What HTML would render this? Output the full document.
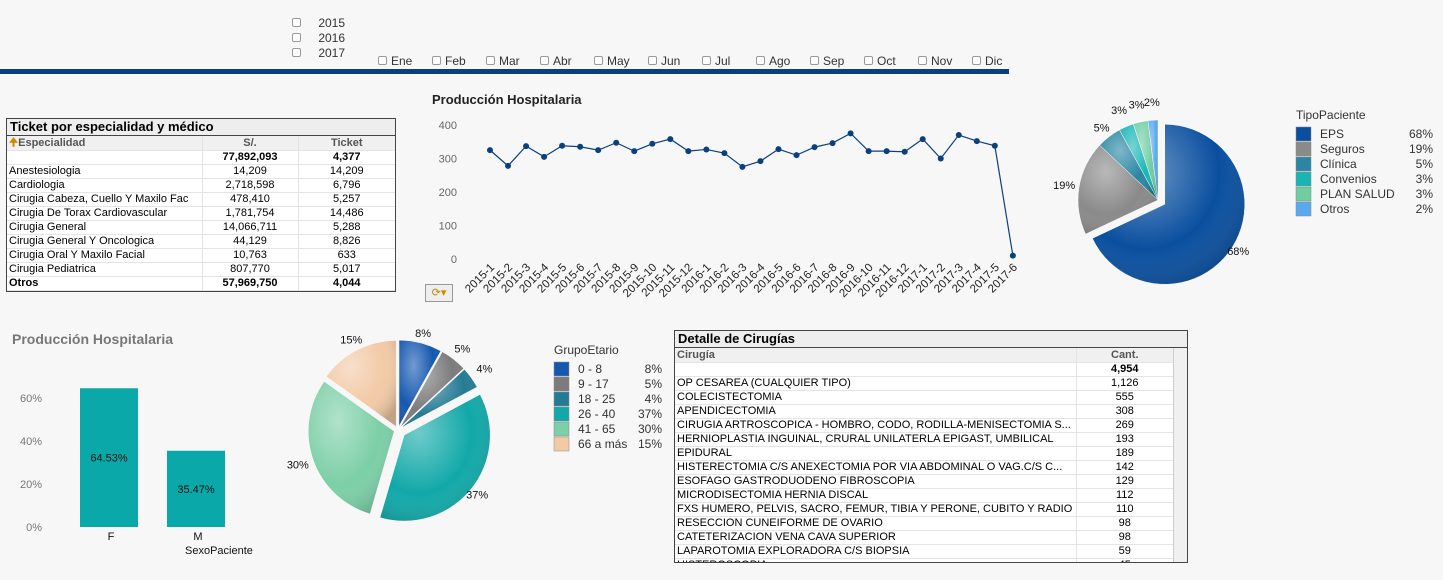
<!DOCTYPE html>
<html><head><meta charset="utf-8">
<style>
body{margin:0;width:1443px;height:580px;background:#f7f7f7;font-family:"Liberation Sans",sans-serif;position:relative;overflow:hidden;font-size:11px;color:#000}
.abs{position:absolute}
.cb{position:absolute;font-size:12px;color:#333}
.cb i{display:inline-block;width:7px;height:7px;border:1px solid #999;border-radius:2px;background:#fff;margin-right:4px;vertical-align:0}
table{border-collapse:collapse;font-size:11px}
td{padding:0 2px;height:13px;line-height:13px;border-bottom:1px solid #e4e4e4;white-space:nowrap;overflow:hidden}
.tbl{position:absolute;border:1px solid #444;background:#fff}
.ttl{background:#eee;border-bottom:1px solid #444;font-weight:bold;font-size:13px;height:16px;line-height:16px;padding-left:3px}
.hd td{background:#f0f0f0;color:#555;font-weight:bold;height:14px}
.c{text-align:center;border-left:1px solid #e4e4e4}
</style></head><body>
<div class="cb" style="left:292px;top:16px"><i></i>&nbsp;&nbsp;&nbsp;&nbsp;2015</div>
<div class="cb" style="left:292px;top:31px"><i></i>&nbsp;&nbsp;&nbsp;&nbsp;2016</div>
<div class="cb" style="left:292px;top:46px"><i></i>&nbsp;&nbsp;&nbsp;&nbsp;2017</div>
<div class="abs" style="left:0;top:69px;width:1009px;height:5px;background:#0c3f7d"></div>

<div class="tbl" style="left:6px;top:118px;width:388px;height:172px">
<div class="ttl">Ticket por especialidad y médico</div>
<table style="width:388px" id="t1">
<colgroup><col style="width:195px"><col style="width:96px"><col></colgroup>
<tr class="hd"><td><span style="color:#c80">🠉</span>Especialidad</td><td class="c">S/.</td><td class="c">Ticket</td></tr>
<tr style="font-weight:bold"><td></td><td class="c">77,892,093</td><td class="c">4,377</td></tr>
</table></div>

<div class="tbl" style="left:674px;top:330px;width:512px;height:231px;overflow:hidden">
<div class="ttl">Detalle de Cirugías</div>
<table style="width:498px" id="t2">
<colgroup><col style="width:401px"><col></colgroup>
<tr class="hd"><td>Cirugía</td><td class="c">Cant.</td></tr>
<tr style="font-weight:bold"><td></td><td class="c">4,954</td></tr>
</table>
<div class="abs" style="right:0;top:17px;width:13px;height:214px;background:#f0f0f0;border-left:1px solid #ccc"></div>
</div>

<svg class="abs" style="left:0;top:0" width="1443" height="580" id="svg"></svg>
<div class="abs" style="left:425px;top:284px;width:26px;height:16px;border:1px solid #999;background:#eee;font-size:11px;line-height:16px;text-align:center;color:#c80">⟳▾</div>

<script>
const months=['Ene','Feb','Mar','Abr','May','Jun','Jul','Ago','Sep','Oct','Nov','Dic'];
months.forEach((m,i)=>{const d=document.createElement('div');d.className='cb';d.style.left=(378+i*54)+'px';d.style.top='54px';d.innerHTML='<i></i>'+m;


document.body.appendChild(d);});

const espNames=['Anestesiologia','Cardiologia','Cirugia Cabeza, Cuello Y Maxilo Fac','Cirugia De Torax Cardiovascular','Cirugia General','Cirugia General Y Oncologica','Cirugia Oral Y Maxilo Facial','Cirugia Pediatrica','Otros'];
const espSoles=['14,209','2,718,598','478,410','1,781,754','14,066,711','44,129','10,763','807,770','57,969,750'];
const espTicket=['14,209','6,796','5,257','14,486','5,288','8,826','633','5,017','4,044'];
const t1=document.getElementById('t1');
espNames.forEach((n,i)=>{const r=t1.insertRow();if(i==8)r.style.fontWeight='bold';


r.innerHTML='<td>'+n+'</td><td class="c">'+espSoles[i]+'</td><td class="c">'+espTicket[i]+'</td>';});

const cirNames=['OP CESAREA (CUALQUIER TIPO)','COLECISTECTOMIA','APENDICECTOMIA','CIRUGIA ARTROSCOPICA - HOMBRO, CODO, RODILLA-MENISECTOMIA S...','HERNIOPLASTIA INGUINAL, CRURAL UNILATERLA EPIGAST, UMBILICAL','EPIDURAL','HISTERECTOMIA C/S ANEXECTOMIA POR VIA ABDOMINAL O VAG.C/S C...','ESOFAGO GASTRODUODENO FIBROSCOPIA','MICRODISECTOMIA HERNIA DISCAL','FXS HUMERO, PELVIS, SACRO, FEMUR, TIBIA Y PERONE, CUBITO Y RADIO','RESECCION CUNEIFORME DE OVARIO','CATETERIZACION VENA CAVA SUPERIOR','LAPAROTOMIA EXPLORADORA C/S BIOPSIA','HISTEROSCOPIA'];
const cirCant=['1,126','555','308','269','193','189','142','129','112','110','98','98','59','45'];
const t2=document.getElementById('t2');
cirNames.forEach((n,i)=>{const r=t2.insertRow();


r.innerHTML='<td>'+n+'</td><td class="c">'+cirCant[i]+'</td>';});

const NS='http://www.w3.org/2000/svg';const svg=document.getElementById('svg');
function el(t,a,txt){const e=document.createElementNS(NS,t);for(const k in a)e.setAttribute(k,a[k]);if(txt!==undefined)e.textContent=txt;svg.appendChild(e);return e;}

// line chart
const lineCats=['2015-1','2015-2','2015-3','2015-4','2015-5','2015-6','2015-7','2015-8','2015-9','2015-10','2015-11','2015-12','2016-1','2016-2','2016-3','2016-4','2016-5','2016-6','2016-7','2016-8','2016-9','2016-10','2016-11','2016-12','2017-1','2017-2','2017-3','2017-4','2017-5','2017-6'];
const lineVals=[325,278,337,305,338,335,325,347,322,344,358,322,327,316,275,292,328,310,334,346,375,322,322,320,358,300,370,352,338,10];
const lineTicks=[0,100,200,300,400];
const ly=v=>259-v*0.335, lx=i=>490+i*18.03;
let t=el('text',{x:432,y:104,'font-size':13,'font-weight':'bold',fill:'#222'},'Producción Hospitalaria');

lineTicks.forEach(v=>{const e=el('text',{x:457,y:ly(v)+4,'font-size':11,fill:'#666','text-anchor':'end'},v);
});
const pl=el('polyline',{points:lineVals.map((v,i)=>lx(i)+','+ly(v)).join(' '),fill:'none',stroke:'#0b3f7f','stroke-width':1.2});

lineVals.forEach((v,i)=>{const c=el('circle',{cx:lx(i),cy:ly(v),r:3,fill:'#0b3f7f'});

const l=el('text',{x:0,y:0,'font-size':11.5,fill:'#222','text-anchor':'end',transform:'translate('+(lx(i)+5)+',268) rotate(-45)'},lineCats[i]);
});

// bar chart
const barCats=['F','M'];const barVals=[64.53,35.47];const barTicks=[0,20,40,60];
const by=v=>527-v*2.15;
t=el('text',{x:12,y:344,'font-size':14,'font-weight':'bold',fill:'#777'},'Producción Hospitalaria');

barTicks.forEach(v=>{const e=el('text',{x:42,y:by(v)+4,'font-size':11,fill:'#777','text-anchor':'end'},v+'%');
});
barVals.forEach((v,i)=>{const x=80+i*87;const r=el('rect',{x:x,y:by(v),width:58,height:v*2.15,fill:'#0aa8a8'});

const l=el('text',{x:x+29,y:by(v/2)+4,'font-size':11,fill:'#111','text-anchor':'middle'},v.toFixed(2)+'%');

const c=el('text',{x:x+31,y:540,'font-size':11,fill:'#111','text-anchor':'middle'},barCats[i]);
});
t=el('text',{x:185,y:554,'font-size':11,fill:'#111'},'SexoPaciente');


// pies
const defs=el('defs',{});
function pie(cx,cy,r,names,vals,cols,explode,labelR,legX,legY,legW,legTitle,nm){
 const tot=vals.reduce((a,b)=>a+b,0);let a0=0;
 vals.forEach((v,i)=>{const a1=a0+v/tot*2*Math.PI;const mid=(a0+a1)/2;const ex=explode[i];
  const ox=cx+ex*Math.sin(mid),oy=cy-ex*Math.cos(mid);
  const p=(a)=>[ox+r*Math.sin(a),oy-r*Math.cos(a)];const s=p(a0),e=p(a1);
  const gid=nm+'g'+i;const g=document.createElementNS(NS,'radialGradient');g.setAttribute('id',gid);g.setAttribute('cx','0.35');g.setAttribute('cy','0.3');g.setAttribute('r','0.8');
  g.innerHTML='<stop offset="0" stop-color="#fff" stop-opacity="0.4"/><stop offset="0.6" stop-color="#fff" stop-opacity="0"/><stop offset="1" stop-color="#000" stop-opacity="0.2"/>';defs.appendChild(g);
  const d='M'+ox+','+oy+' L'+s[0]+','+s[1]+' A'+r+','+r+' 0 '+((a1-a0)>Math.PI?1:0)+' 1 '+e[0]+','+e[1]+' Z';
  const sl=el('path',{d:d,fill:cols[i],stroke:'#fff','stroke-width':0.5});
  
  el('path',{d:d,fill:'url(#'+gid+')'});
  const lx2=cx+labelR[i]*Math.sin(mid),ly2=cy-labelR[i]*Math.cos(mid);
  const l=el('text',{x:lx2,y:ly2+4,'font-size':11,fill:'#111','text-anchor':'middle'},Math.round(v)+'%');
  
  a0=a1;});
 const tt=el('text',{x:legX,y:legY,'font-size':12,fill:'#333'},legTitle);
 
 names.forEach((n,i)=>{const y=legY+8+i*15;
  const r2=el('rect',{x:legX,y:y,width:15,height:14,fill:cols[i],stroke:'#888','stroke-width':0.5});
  
  const a=el('text',{x:legX+24,y:y+11,'font-size':12,fill:'#333'},n);
  
  const b=el('text',{x:legX+legW,y:y+11,'font-size':12,fill:'#333','text-anchor':'end'},Math.round(vals[i])+'%');
  });
}
const tipoNames=['EPS','Seguros','Clínica','Convenios','PLAN SALUD','Otros'];
const tipoVals=[68,19,5,3,3,2];
pie(1158,200,80,tipoNames,tipoVals,['#0a4f9f','#8a8a8a','#2a86a3','#19b5b5','#6fcda2','#5aa8ee'],[8,0,0,0,0,0],[95,95,92,98,98,98],1296,119,137,'TipoPaciente','tipo');
const edadNames=['0 - 8','9 - 17','18 - 25','26 - 40','41 - 65','66 a más'];
const edadVals=[8,5,4,37,30,15];
pie(398,430,86,edadNames,edadVals,['#1558b0','#7c7c7c','#257b94','#12a8a8','#7ccfa7','#f2caa6'],[4,4,4,8,4,4],[100,104,106,102,106,102],554,354,108,'GrupoEtario','edad');
</script>
</body></html>
